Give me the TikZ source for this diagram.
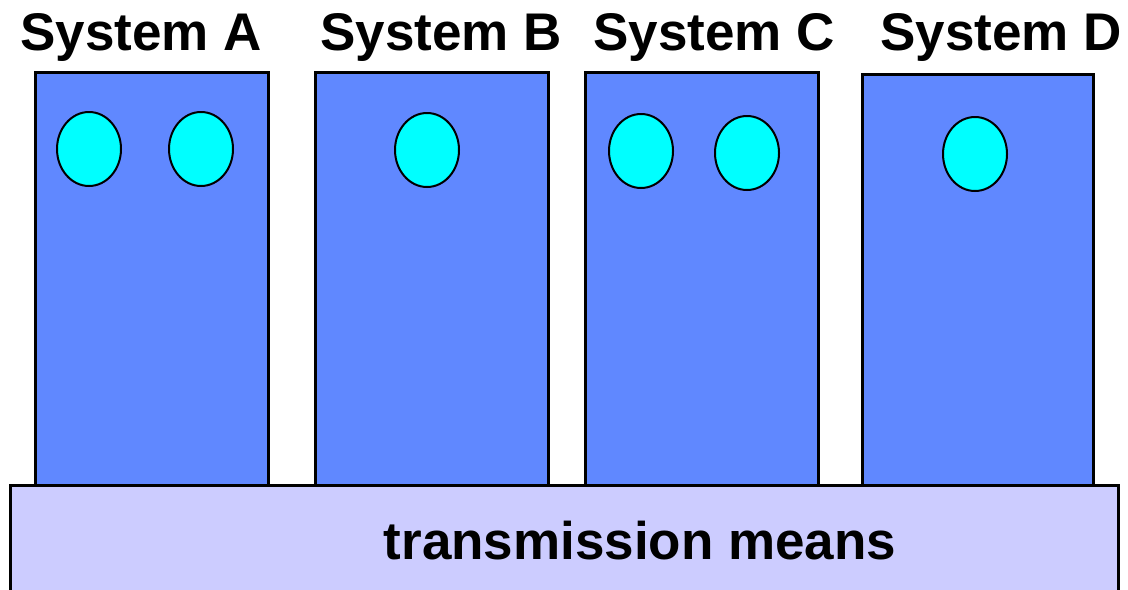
\documentclass[tikz,border=0pt]{standalone}
\usepackage{fontspec}
\setmainfont{Liberation Sans}
\usetikzlibrary{shapes.geometric}
\definecolor{sysblue}{HTML}{6088FF}
\definecolor{medium}{HTML}{CCCCFF}
\definecolor{proc}{HTML}{00FFFF}
\begin{document}
\begin{tikzpicture}[x=0.5pt,y=-0.5pt,
  sysbox/.style={draw=black,line width=1.5pt,fill=sysblue},
  procnode/.style={draw=black,line width=1pt,fill=proc,ellipse,minimum width=32pt,minimum height=37pt,inner sep=0pt},
  label/.style={font=\fontsize{26.5}{30}\selectfont\bfseries,inner sep=0pt}]
\useasboundingbox (0,0) rectangle (1128,589);
\draw[sysbox] (35,485) rectangle (268,72);
\draw[sysbox] (315,485) rectangle (548,72);
\draw[sysbox] (585,485) rectangle (818,72);
\draw[sysbox] (862,485) rectangle (1093,74);
\draw[draw=black,line width=1.5pt,fill=medium] (10,600) -- (10,485) -- (1118,485) -- (1118,600);
\node[label] (tm) at (640,541) {transmission means};
\node[label] (la) at (141,37) {System A};
\node[label] (lb) at (441,37) {System B};
\node[label] (lc) at (714,37) {System C};
\node[label] (ld) at (1001,37) {System D};
\node[procnode] (a1) at (89,149) {};
\node[procnode] (a2) at (201,149) {};
\node[procnode] (b1) at (427,150) {};
\node[procnode] (c1) at (641,151) {};
\node[procnode] (c2) at (747,153) {};
\node[procnode] (d1) at (975,154) {};
\end{tikzpicture}
\end{document}
